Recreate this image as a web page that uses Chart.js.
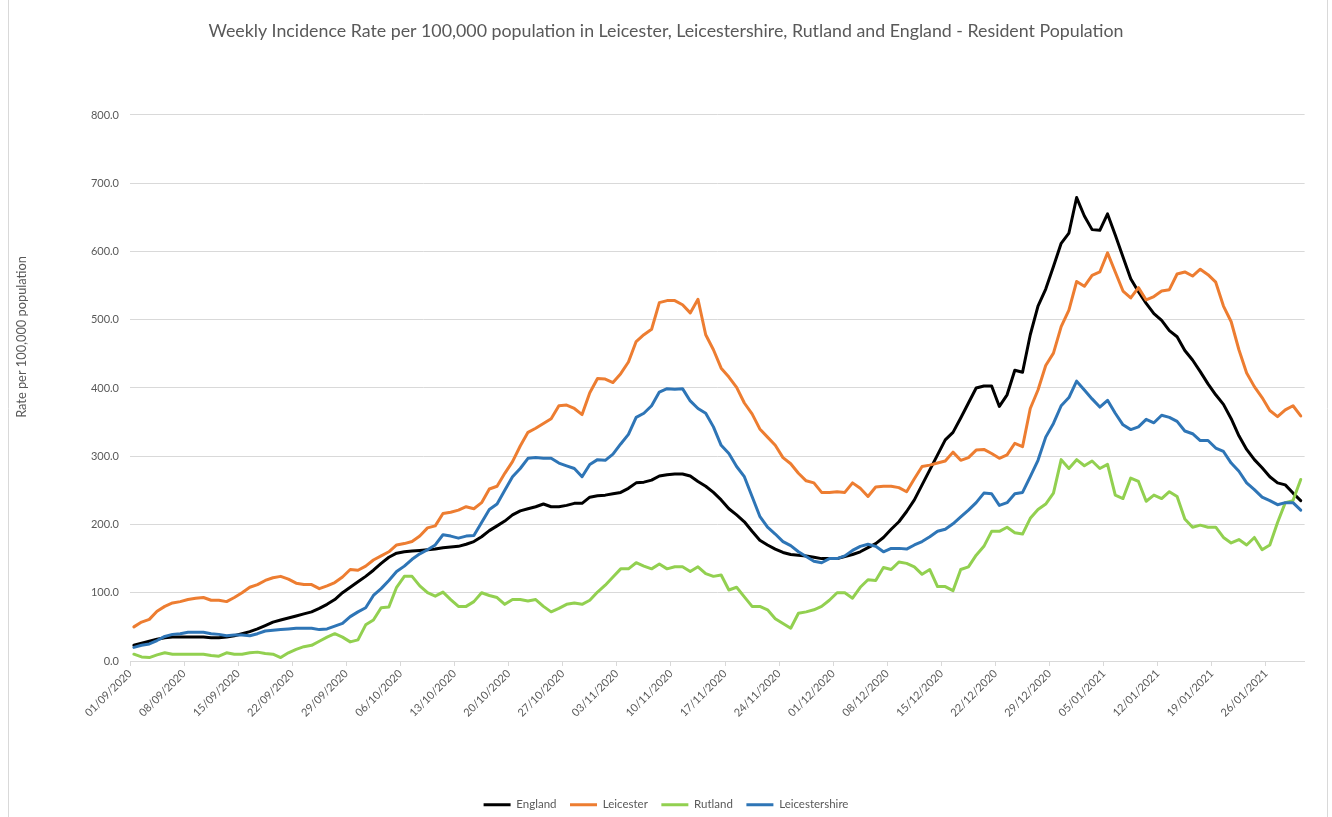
<!DOCTYPE html>
<html>
<head>
<meta charset="utf-8">
<script src="https://cdn.jsdelivr.net/npm/chart.js@4"></script>
<style>
html, body { margin: 0; padding: 0; background: #ffffff; }
#wrap { width: 1332px; height: 817px; }
</style>
</head>
<body>
<div id="wrap"><canvas id="chart" width="1332" height="817"></canvas></div>
<script>
// ---- Data (daily values, 01/09/2020 .. 30/01/2021) ----
const chartTitle = 'Weekly Incidence Rate per 100,000 population in Leicester, Leicestershire, Rutland and England - Resident Population';
const yAxisTitle = 'Rate per 100,000 population';

const tickLabels = [
  '01/09/2020', '08/09/2020', '15/09/2020', '22/09/2020', '29/09/2020',
  '06/10/2020', '13/10/2020', '20/10/2020', '27/10/2020', '03/11/2020',
  '10/11/2020', '17/11/2020', '24/11/2020', '01/12/2020', '08/12/2020',
  '15/12/2020', '22/12/2020', '29/12/2020', '05/01/2021', '12/01/2021',
  '19/01/2021', '26/01/2021'
];

const seriesNames = ['England', 'Leicester', 'Rutland', 'Leicestershire'];

const england = [
  23, 26, 29, 32, 34, 35, 35, 35, 35, 35,
  34, 34, 35, 37, 40, 43, 47, 52, 57, 60,
  63, 66, 69, 72, 77, 83, 90, 100, 108, 116,
  124, 133, 143, 152, 158, 160, 161, 162, 163, 164,
  166, 167, 168, 171, 175, 182, 191, 198, 205, 214,
  220, 223, 226, 230, 226, 226, 228, 231, 231, 240,
  242, 243, 245, 247, 253, 261, 262, 265, 271, 273,
  274, 274, 271, 263, 256, 247, 236, 223, 214, 204,
  190, 177, 170, 164, 159, 156, 155, 154, 152, 150,
  150, 150, 153, 156, 160, 166, 172, 181, 193, 204,
  219, 236, 258, 280, 302, 324, 335, 356, 378, 400,
  403, 403, 373, 390, 426, 423, 478, 520, 545, 578,
  612, 627, 679, 652, 632, 631, 655, 624, 592, 560,
  541, 524, 509, 499, 484, 475, 455, 441, 424, 406,
  390, 376, 355, 330, 310, 295, 283, 270, 261, 258,
  246, 235
];

const leicester = [
  50, 57, 61, 73, 80, 85, 87, 90, 92, 93,
  89, 89, 87, 93, 100, 108, 112, 118, 122, 124,
  120, 114, 112, 112, 106, 110, 115, 123, 134, 133,
  139, 148, 154, 160, 170, 172, 175, 183, 195, 198,
  216, 218, 221, 226, 223, 232, 252, 256, 275, 292,
  315, 335, 341, 348, 355, 374, 375, 370, 361, 393,
  414, 413, 408, 421, 438, 468, 478, 486, 525, 528,
  528, 522, 510, 530, 478, 456, 429, 416, 401, 378,
  362, 340, 328, 316, 298, 289, 275, 264, 261, 247,
  247, 248, 247, 261, 253, 241, 255, 256, 256, 254,
  248, 267, 285, 287, 290, 293, 306, 294, 298, 309,
  310, 304, 297, 302, 319, 314, 370, 397, 433, 451,
  490, 514, 556, 549, 565, 570, 598, 570, 542, 532,
  547, 529, 534, 542, 544, 567, 570, 564, 574, 566,
  555, 520, 497, 456, 422, 402, 386, 367, 358, 368,
  374, 359
];

const rutland = [
  10, 6, 5, 9, 12, 10, 10, 10, 10, 10,
  8, 7, 12, 10, 10, 12, 13, 11, 10, 5,
  12, 17, 21, 23, 29, 35, 40, 35, 28, 31,
  53, 60, 78, 79, 108, 124, 124, 110, 100, 95,
  101, 90, 80, 80, 87, 100, 96, 93, 83, 90,
  90, 88, 90, 80, 72, 77, 83, 85, 83, 89,
  101, 111, 123, 135, 135, 144, 139, 135, 142, 135,
  138, 138, 131, 138, 128, 124, 126, 104, 108, 94,
  80, 80, 75, 62, 55, 48, 70, 72, 75, 80,
  89, 100, 100, 92, 108, 119, 118, 137, 134, 145,
  143, 138, 127, 134, 109, 109, 103, 134, 138, 155,
  168, 190, 190, 196, 188, 186, 209, 222, 230, 246,
  295, 282, 295, 286, 293, 282, 288, 243, 238, 268,
  263, 234, 243, 238, 248, 241, 208, 196, 199, 196,
  196, 181, 173, 178, 170, 181, 163, 170, 203, 232,
  235, 266
];

const leicestershire = [
  20, 23, 25, 30, 36, 39, 40, 42, 42, 42,
  40, 39, 37, 38, 38, 37, 40, 44, 45, 46,
  47, 48, 48, 48, 46, 47, 51, 55, 65, 72,
  78, 96, 106, 118, 131, 139, 149, 157, 163, 170,
  185, 183, 180, 183, 184, 203, 222, 230, 250, 270,
  282, 297, 298, 297, 297, 290, 286, 282, 270, 288,
  295, 294, 303, 318, 332, 357, 363, 374, 394, 399,
  398, 399, 381, 370, 363, 343, 316, 304, 285, 270,
  241, 212, 196, 186, 175, 169, 160, 153, 146, 144,
  150, 150, 154, 162, 168, 171, 168, 160, 165, 165,
  164, 170, 175, 182, 190, 193, 201, 211, 221, 232,
  246, 245, 228, 232, 245, 247, 270, 294, 328, 348,
  374, 386, 410, 397, 384, 372, 382, 363, 346, 339,
  343, 354, 349, 360, 357, 351, 337, 333, 323, 323,
  312, 307, 290, 278, 261, 251, 240, 235, 229, 232,
  232, 221
];

// ---- Styling ----
const seriesValues = [england, leicester, rutland, leicestershire];
const seriesColors = ['#000000', '#ED7D31', '#92D050', '#2E75B6'];
const textColor = '#595959';
const gridColor = '#d9d9d9';
const DAYS_PER_TICK = 7;

Chart.defaults.font.family = 'Lato, "Open Sans", sans-serif';

const toPoints = arr => arr.map((v, i) => ({ x: i + 0.5, y: v }));

const decorPlugin = {
  id: 'decor',
  beforeDraw(chart) {
    const ctx = chart.ctx;
    ctx.save();
    ctx.fillStyle = '#ffffff';
    ctx.fillRect(0, 0, chart.width, chart.height);
    ctx.strokeStyle = gridColor;
    ctx.lineWidth = 1;
    ctx.beginPath();
    ctx.moveTo(8.5, 0); ctx.lineTo(8.5, chart.height);
    ctx.moveTo(chart.width - 4.5, 0); ctx.lineTo(chart.width - 4.5, chart.height);
    ctx.stroke();
    ctx.restore();
  },
  afterDraw(chart) {
    const ctx = chart.ctx;
    ctx.save();
    ctx.translate(22, 337);
    ctx.rotate(-Math.PI / 2);
    ctx.font = '12.8px Lato, "Open Sans", sans-serif';
    ctx.fillStyle = textColor;
    ctx.textAlign = 'center';
    ctx.textBaseline = 'middle';
    ctx.fillText(yAxisTitle, 0, 0);
    ctx.restore();
  }
};

const n = seriesValues.length;
new Chart(document.getElementById('chart'), {
  type: 'line',
  data: {
    datasets: seriesNames.map((name, k) => ({
      label: name,
      data: toPoints(seriesValues[k]),
      borderColor: seriesColors[k],
      backgroundColor: seriesColors[k],
      borderWidth: 3,
      pointRadius: 0,
      pointHoverRadius: 0,
      pointBorderWidth: 3,
      pointBorderColor: seriesColors[k],
      tension: 0,
      borderJoinStyle: 'round',
      borderCapStyle: 'round',
      fill: false,
      order: n - k
    }))
  },
  options: {
    responsive: false,
    animation: false,
    devicePixelRatio: 1,
    layout: { padding: { left: 0, right: 0, top: 0, bottom: -3.5 } },
    plugins: {
      title: {
        display: true,
        text: chartTitle,
        color: textColor,
        font: { size: 17.8, weight: 'normal' },
        padding: { top: 21, bottom: 72.6 }
      },
      legend: {
        position: 'bottom',
        labels: {
          usePointStyle: true,
          pointStyle: 'line',
          pointStyleWidth: 27,
          color: textColor,
          font: { size: 11.5 },
          padding: 13.5,
          sort: (a, b) => a.datasetIndex - b.datasetIndex
        }
      },
      tooltip: { enabled: false }
    },
    scales: {
      x: {
        type: 'linear',
        min: 0,
        max: england.length,
        afterBuildTicks: s => { s.ticks = tickLabels.map((_, k) => ({ value: k * DAYS_PER_TICK })); },
        afterFit: s => { s.height = 124.5; },
        ticks: {
          autoSkip: false,
          maxRotation: 45,
          minRotation: 45,
          color: textColor,
          font: { size: 11 },
          padding: 1,
          callback: v => tickLabels[Math.round(v / DAYS_PER_TICK)]
        },
        grid: { display: true, drawOnChartArea: false, drawTicks: true, tickLength: 5, color: gridColor },
        border: { display: true, color: gridColor }
      },
      y: {
        min: 0,
        max: 800,
        afterFit: s => { s.width = 130; },
        ticks: {
          stepSize: 100,
          color: textColor,
          font: { size: 11 },
          padding: 11,
          callback: v => Number(v).toFixed(1)
        },
        grid: { color: gridColor, drawTicks: false },
        border: { display: false }
      },
      rightGap: {
        type: 'linear',
        position: 'right',
        display: true,
        afterFit: s => { s.width = 27.4; },
        ticks: { display: false },
        grid: { display: false, drawTicks: false },
        border: { display: false }
      }
    }
  },
  plugins: [decorPlugin]
});
</script>
</body>
</html>
